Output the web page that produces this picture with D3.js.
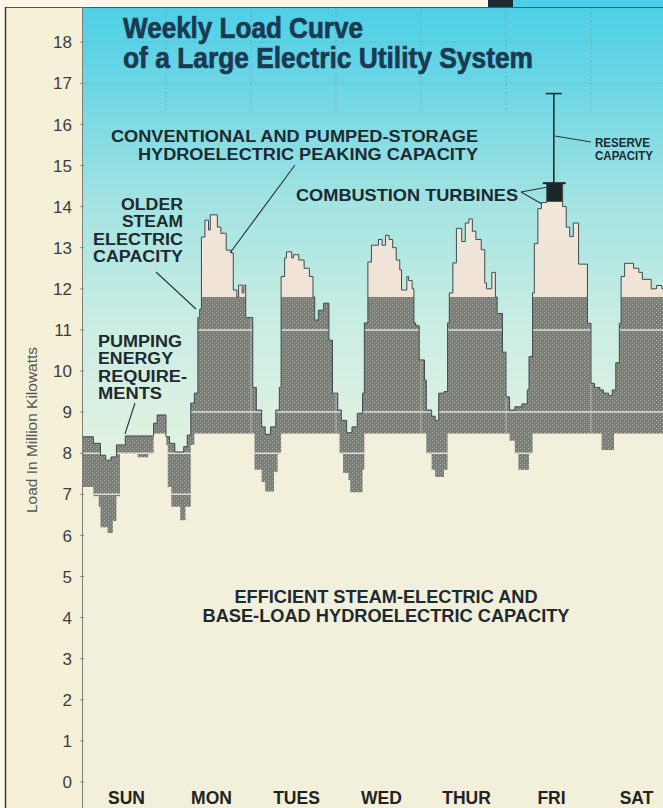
<!DOCTYPE html>
<html>
<head>
<meta charset="utf-8">
<script src="https://cdn.jsdelivr.net/npm/d3@7/dist/d3.min.js"></script>
<style>
  html, body { margin: 0; padding: 0; background: #fbf8ea; }
  svg { display: block; }
</style>
</head>
<body>
<svg id="chart" width="663" height="808"></svg>
<script>
// System load through the week: [hour of week (0 = Sunday 00:00), million kW], held until the next step
const loadSteps = [
  [0, 8.40], [3.5, 8.24], [5.5, 7.95], [7, 7.83], [8.5, 7.91], [10, 8.20], [12.5, 8.42],
  [20.5, 8.73], [21.5, 8.93], [24, 8.40], [25, 8.24], [26.5, 8.03], [29, 8.16], [30, 8.44],
  [31, 9.22], [32, 9.46], [33, 11.30], [33.5, 11.50], [34, 13.26], [35, 13.67], [36, 13.43],
  [36.5, 13.80], [38.5, 13.50], [39.5, 13.35], [41, 12.94], [42.5, 12.87], [43, 11.97],
  [44, 11.80], [44.5, 12.09], [45.5, 11.90], [46, 12.09], [46.5, 11.30], [48.5, 9.60],
  [49.5, 9.05], [51, 8.64], [52, 8.46], [53.5, 8.64], [55, 9.05], [56, 9.60], [56.5, 12.30],
  [57.5, 12.75], [58, 12.90], [59.5, 12.75], [60, 12.83], [61.5, 12.70], [63, 12.50],
  [64.5, 12.30], [65.5, 11.80], [66, 11.24], [67, 11.48], [68.5, 11.65], [70, 10.75],
  [71, 9.46], [72.5, 9.05], [73.5, 8.80], [75, 8.50], [76.5, 8.64], [78, 8.97], [79.5, 9.46],
  [80, 11.17], [81, 12.65], [82, 13.06], [84, 13.20], [85, 13.06], [86, 13.30], [87, 13.20],
  [88, 13.00], [89, 12.70], [90, 12.46], [90.5, 11.97], [92, 12.30], [92.5, 12.20],
  [93.5, 12.00], [94, 11.17], [94.5, 11.10], [95.5, 10.27], [97, 9.78], [97.5, 9.05],
  [99, 8.90], [100, 8.80], [101, 9.46], [102.5, 9.50], [103.5, 11.17], [104, 11.90],
  [105, 12.63], [106, 13.47], [107.5, 13.15], [108.5, 13.60], [109.5, 13.70], [110.5, 13.40],
  [111.5, 13.20], [113, 12.95], [114, 12.14], [114.5, 12.00], [116, 12.40], [117, 11.80],
  [117.5, 11.40], [119, 10.46], [120, 9.37], [121, 9.05], [122.5, 9.13], [124.5, 9.20],
  [126, 9.54], [126.5, 10.35], [127.5, 11.90], [128, 13.10], [129, 13.95], [130, 14.10],
  [131.5, 14.57], [136, 14.00], [137, 13.50], [138, 13.27], [139, 13.60], [140.5, 12.60],
  [143, 11.16], [144, 9.70], [145, 9.60], [146.5, 9.54], [147.5, 9.46], [149, 9.40],
  [150, 9.54], [151, 10.20], [152, 11.16], [152.5, 12.30], [153.5, 12.62], [156, 12.50],
  [157.5, 12.40], [158.5, 12.23], [161, 12.00], [162.5, 12.08], [164, 12.00], [168, 12.00]
];

// Lower edge of the older steam-electric band; below the base line it is pumping load
const pumpingSteps = [
  [0, 7.18], [3.5, 6.95], [5, 6.70], [5.5, 6.20], [7.5, 6.06], [9, 6.35], [10, 6.95],
  [11, 8.00], [16, 7.90], [19, 8.00], [20.5, 8.48], [24, 8.20], [24.5, 7.18], [25.5, 6.70],
  [28, 6.37], [29.5, 6.70], [31, 8.20], [32, 8.48], [49, 7.60], [51, 7.30], [52, 7.07],
  [54.5, 7.55], [55.5, 8.00], [56.5, 8.48], [73, 8.00], [74, 7.52], [75.5, 7.35], [76, 7.05],
  [79.5, 7.60], [80, 8.48], [97.5, 8.00], [99, 7.60], [100, 7.42], [102.5, 7.60],
  [103.5, 8.48], [121, 8.30], [122.5, 8.00], [123.5, 7.60], [126.5, 8.00], [127.5, 8.48],
  [147, 8.08], [150.5, 8.48], [168, 8.48]
];

const days = ["SUN", "MON", "TUES", "WED", "THUR", "FRI", "SAT"];
const yTicks = d3.range(0, 19);
const steamCapacity = 11.8;     // top of older steam-electric capacity
const turbineFloor = 14.12;     // combustion turbines above this level
const reservePeak = 14.57;
const reserveTop = 16.75;
const reserveHour = 133.5;
const ruleValues = [7, 8, 9, 11];
const skyRuleValues = [17, 18];

const W = 663, H = 808;
const svg = d3.select("#chart");
const x = d3.scaleLinear().domain([0, 168]).range([81, 676]);
const y = d3.scaleLinear().domain([0, 18]).range([782, 42.2]);
const plotLeft = 82;

const defs = svg.append("defs");
const sky = defs.append("linearGradient").attr("id", "sky")
  .attr("gradientUnits", "userSpaceOnUse").attr("x1", 0).attr("y1", 0).attr("x2", 0).attr("y2", H);
[[0, "#4bcfe6"], [0.1, "#6ad6e5"], [0.25, "#a3e3e2"], [0.4, "#caede3"],
 [0.55, "#e0f1e1"], [0.7, "#edf1dd"], [1, "#f3f0da"]]
  .forEach(([o, c]) => sky.append("stop").attr("offset", o).attr("stop-color", c));

const peakFill = defs.append("linearGradient").attr("id", "peakFill")
  .attr("gradientUnits", "userSpaceOnUse").attr("x1", 0).attr("y1", y(15)).attr("x2", 0).attr("y2", y(11.8));
peakFill.append("stop").attr("offset", 0).attr("stop-color", "#efe8dc");
peakFill.append("stop").attr("offset", 1).attr("stop-color", "#f0e3d6");

// halftone screen for the older steam-electric band
const ht = defs.append("pattern").attr("id", "halftone")
  .attr("patternUnits", "userSpaceOnUse").attr("width", 4).attr("height", 4);
ht.append("rect").attr("width", 4).attr("height", 4).attr("fill", "#7b7d77");
ht.append("rect").attr("x", 0).attr("y", 0).attr("width", 1).attr("height", 1).attr("fill", "#b3b5af");
ht.append("rect").attr("x", 2).attr("y", 2).attr("width", 1).attr("height", 1).attr("fill", "#b3b5af");

defs.append("clipPath").attr("id", "plotClip")
  .append("rect").attr("x", plotLeft).attr("y", 0).attr("width", W - plotLeft).attr("height", H);

// step lookup
function stepValue(steps, h) {
  let v = steps[0][1];
  for (const [t, val] of steps) { if (t <= h) v = val; else break; }
  return v;
}
const hours = Array.from(new Set([...loadSteps, ...pumpingSteps].map(d => d[0]))).sort((a, b) => a - b);
const rows = hours.map(h => {
  const load = stepValue(loadSteps, h);
  const low = Math.min(stepValue(pumpingSteps, h), load);
  return { h, load, low };
});

// page and frame
svg.append("rect").attr("width", W).attr("height", H).attr("fill", "#fbf8ea");
svg.append("rect").attr("x", 5).attr("y", 7).attr("width", plotLeft - 5).attr("height", H - 7).attr("fill", "#f5f0d8");
svg.append("rect").attr("x", plotLeft).attr("y", 0).attr("width", W - plotLeft).attr("height", H).attr("fill", "url(#sky)");
svg.append("rect").attr("x", 0).attr("y", 0).attr("width", 488).attr("height", 7).attr("fill", "#fbf6e8");
svg.append("rect").attr("x", 488).attr("y", 0).attr("width", 25).attr("height", 7).attr("fill", "#1d2833");

const plot = svg.append("g").attr("clip-path", "url(#plotClip)");

// faint grid in the open sky
const skyGrid = plot.append("g").attr("stroke", "#4f8791").attr("stroke-opacity", 0.45)
  .attr("stroke-dasharray", "1.5 2.5").attr("stroke-width", 1);
skyRuleValues.forEach(v => skyGrid.append("line")
  .attr("x1", plotLeft).attr("x2", W).attr("y1", y(v)).attr("y2", y(v)));
d3.range(24, 168, 24).forEach(h => skyGrid.append("line")
  .attr("x1", x(h)).attr("x2", x(h)).attr("y1", 8).attr("y2", y(16.3)));

const stepArea = () => d3.area().curve(d3.curveStepAfter).x(d => x(d.h));

// efficient steam-electric and base-load hydro
plot.append("path").datum(rows)
  .attr("d", stepArea().y0(H).y1(d => y(d.low)))
  .attr("fill", "#f2efda");

// peaking hydro above older steam capacity
plot.append("path").datum(rows)
  .attr("d", stepArea().y0(d => y(Math.min(d.load, steamCapacity))).y1(d => y(d.load)))
  .attr("fill", "url(#peakFill)");

// older steam-electric band (and pumping load below base)
const darkArea = stepArea().y0(d => y(d.low)).y1(d => y(Math.min(d.load, steamCapacity)));
plot.append("path").datum(rows).attr("d", darkArea).attr("fill", "url(#halftone)");

defs.append("clipPath").attr("id", "darkClip").append("path").attr("d", darkArea(rows));
const rules = plot.append("g").attr("clip-path", "url(#darkClip)");
ruleValues.forEach(v => rules.append("line")
  .attr("x1", plotLeft).attr("x2", W).attr("y1", y(v)).attr("y2", y(v))
  .attr("stroke", "#ecede6").attr("stroke-width", 1.5).attr("stroke-opacity", 0.85));
d3.range(24, 168, 24).forEach(h => rules.append("line")
  .attr("x1", x(h)).attr("x2", x(h)).attr("y1", 0).attr("y2", H)
  .attr("stroke", "#e2e4dc").attr("stroke-width", 1).attr("stroke-opacity", 0.55));

// combustion turbines at the weekly peak
plot.append("path").datum(rows)
  .attr("d", stepArea().y0(d => y(Math.min(d.load, turbineFloor))).y1(d => y(d.load)))
  .attr("fill", "#1c2627");

// load curve outline
plot.append("path").datum(rows)
  .attr("d", d3.line().curve(d3.curveStepAfter).x(d => x(d.h)).y(d => y(d.load)))
  .attr("fill", "none").attr("stroke", "#3f4b4c").attr("stroke-width", 1);

// reserve capacity bar
const rx = x(reserveHour);
const reserve = svg.append("g").attr("stroke", "#1f2a30");
reserve.append("line").attr("x1", rx).attr("x2", rx).attr("y1", y(reserveTop)).attr("y2", y(reservePeak)).attr("stroke-width", 1.6);
reserve.append("line").attr("x1", rx - 8).attr("x2", rx + 8).attr("y1", y(reserveTop)).attr("y2", y(reserveTop)).attr("stroke-width", 1.6);
reserve.append("line").attr("x1", rx - 11).attr("x2", rx + 12).attr("y1", y(reservePeak)).attr("y2", y(reservePeak)).attr("stroke-width", 2);

// frame lines
svg.append("line").attr("x1", 5).attr("x2", W).attr("y1", 7.5).attr("y2", 7.5).attr("stroke", "#4c5a60").attr("stroke-width", 1);
svg.append("line").attr("x1", 5.5).attr("x2", 5.5).attr("y1", 7).attr("y2", H).attr("stroke", "#3a3a3a").attr("stroke-width", 1.5);
svg.append("line").attr("x1", plotLeft + 0.5).attr("x2", plotLeft + 0.5).attr("y1", 7).attr("y2", H).attr("stroke", "#7d7f7a").attr("stroke-width", 1);

// y axis
const yAxis = svg.append("g");
yTicks.forEach(v => {
  yAxis.append("text").attr("x", 72).attr("y", y(v)).attr("dy", "0.36em")
    .attr("text-anchor", "end").attr("font-family", "'Liberation Sans', Arial, sans-serif")
    .attr("font-size", 17).attr("fill", "#3d3d3d").text(v);
  yAxis.append("line").attr("x1", plotLeft - 2).attr("x2", plotLeft + 2)
    .attr("y1", y(v)).attr("y2", y(v)).attr("stroke", "#8a8c86").attr("stroke-width", 1);
});
svg.append("text").attr("transform", "translate(37,430) rotate(-90)")
  .attr("text-anchor", "middle").attr("font-family", "'Liberation Sans', Arial, sans-serif")
  .attr("font-size", 15).attr("fill", "#555").attr("textLength", 166).attr("lengthAdjust", "spacingAndGlyphs")
  .text("Load In Million Kilowatts");

// day labels
days.forEach((d, i) => svg.append("text")
  .attr("x", x(12 + 24 * i) + 3).attr("y", 804).attr("text-anchor", "middle")
  .attr("font-family", "'Liberation Sans', Arial, sans-serif").attr("font-weight", "bold")
  .attr("font-size", 17.5).attr("fill", "#222").text(d));

// title
const titleFont = "'Liberation Sans Narrow', 'Arial Narrow', 'Liberation Sans', sans-serif";
[["Weekly Load Curve", 38, 240], ["of a Large Electric Utility System", 68, 410]].forEach(([t, ty, len]) =>
  svg.append("text").attr("x", 123).attr("y", ty)
    .attr("font-family", titleFont).attr("font-weight", "bold").attr("font-size", 29.5)
    .attr("fill", "#1b3a52").attr("stroke", "#1b3a52").attr("stroke-width", 0.7)
    .attr("textLength", len).attr("lengthAdjust", "spacingAndGlyphs").text(t));

// annotations
const noteFont = "'Liberation Sans', Arial, Helvetica, sans-serif";
function note(lines, ax, ay, anchor, size, gap, len) {
  lines.forEach((t, i) => {
    const el = svg.append("text").attr("x", ax).attr("y", ay + i * gap)
      .attr("text-anchor", anchor).attr("font-family", noteFont).attr("font-weight", "bold")
      .attr("font-size", size).attr("fill", "#1d2a30").text(t);
    if (len) el.attr("textLength", len[i]).attr("lengthAdjust", "spacingAndGlyphs");
  });
}
note(["CONVENTIONAL AND PUMPED-STORAGE", "HYDROELECTRIC PEAKING CAPACITY"], 478, 142, "end", 16, 17.5, [367, 340]);
note(["COMBUSTION TURBINES"], 296, 201, "start", 17, 0, [222]);
note(["OLDER", "STEAM", "ELECTRIC", "CAPACITY"], 183, 210, "end", 16, 17.3, [62, 61, 90, 90]);
note(["PUMPING", "ENERGY", "REQUIRE-", "MENTS"], 98, 347, "start", 16, 17.3, [84, 75, 89, 64]);
note(["RESERVE", "CAPACITY"], 595, 147, "start", 12, 13, [55, 58]);
note(["EFFICIENT STEAM-ELECTRIC AND", "BASE-LOAD HYDROELECTRIC CAPACITY"], 386, 603, "middle", 17.5, 19, [303, 367]);

// leader lines
const leaders = [
  [[295, 165], [230, 253]],
  [[156, 272], [196, 309]],
  [[135, 403], [125, 434]],
  [[521, 192], [548, 187]],
  [[521, 192], [542, 204]],
  [[555, 136], [591, 142]]
];
leaders.forEach(([a, b]) => svg.append("line")
  .attr("x1", a[0]).attr("y1", a[1]).attr("x2", b[0]).attr("y2", b[1])
  .attr("stroke", "#26343a").attr("stroke-width", 1.1));
</script>
</body>
</html>
